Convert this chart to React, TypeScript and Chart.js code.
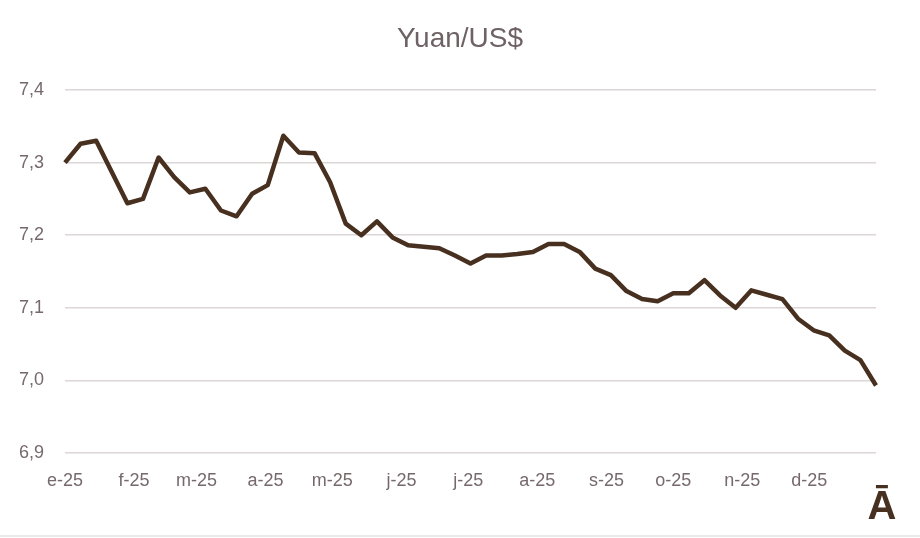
import React, { useEffect, useRef } from "react";
import { Chart, registerables } from "chart.js";

Chart.register(...registerables);

const chartTitle = "Yuan/US$";
const cornerMark = "Ā";

// weekly observations, 2025 (one per week, starting first week of January)
const weeklyValues = [
  7.300, 7.326, 7.330, 7.287, 7.244, 7.250, 7.307, 7.280, 7.259, 7.264,
  7.234, 7.226, 7.257, 7.269, 7.337, 7.314, 7.313, 7.273, 7.216, 7.200,
  7.219, 7.197, 7.186, 7.184, 7.182, 7.172, 7.161, 7.172, 7.172, 7.174,
  7.177, 7.188, 7.188, 7.177, 7.154, 7.145, 7.123, 7.112, 7.109, 7.120,
  7.120, 7.138, 7.117, 7.100, 7.124, 7.118, 7.112, 7.085, 7.069, 7.062,
  7.041, 7.028, 6.993,
];

const daysPerWeek = 7;
const monthStartDays = [0, 31, 59, 90, 120, 151, 181, 212, 243, 273, 304, 334];
const monthLabels = ["e-25", "f-25", "m-25", "a-25", "m-25", "j-25", "j-25", "a-25", "s-25", "o-25", "n-25", "d-25"];

const yMin = 6.9;
const yMax = 7.4;
const yStep = 0.1;

const textColor = "#76696c";
const lineColor = "#47301f";
const gridColor = "#dcd6d7";

export default function App() {
  const canvasRef = useRef<HTMLCanvasElement | null>(null);

  useEffect(() => {
    const canvas = canvasRef.current;
    if (!canvas) return;

    const points = weeklyValues.map((v, i) => ({ x: i * daysPerWeek, y: v }));
    const lastDay = (weeklyValues.length - 1) * daysPerWeek;

    const overlay = {
      id: "overlayText",
      afterDraw(chart: any) {
        const ctx = chart.ctx;
        ctx.save();
        ctx.fillStyle = "#6f6265";
        ctx.font = "28px 'Liberation Sans', Arial, sans-serif";
        ctx.textAlign = "center";
        ctx.textBaseline = "alphabetic";
        ctx.fillText(chartTitle, 460, 47);
        ctx.fillStyle = lineColor;
        ctx.font = "bold 40px 'Liberation Sans', Arial, sans-serif";
        ctx.fillText(cornerMark, 882, 519);
        // faint frame line at the bottom of the picture
        ctx.strokeStyle = "#e4e0e1";
        ctx.lineWidth = 1.5;
        ctx.beginPath();
        ctx.moveTo(0, 536);
        ctx.lineTo(920, 536);
        ctx.stroke();
        ctx.restore();
      },
    };

    const chart = new Chart(canvas, {
      type: "line",
      data: {
        datasets: [
          {
            data: points,
            borderColor: lineColor,
            borderWidth: 4.5,
            pointRadius: 0,
            tension: 0,
            borderJoinStyle: "round",
            borderCapStyle: "butt",
            fill: false,
            clip: false as any,
          },
        ],
      },
      options: {
        responsive: false,
        animation: false,
        events: [],
        layout: { padding: { top: 90, right: 44, left: 0, bottom: 0 } },
        plugins: {
          legend: { display: false },
          title: { display: false },
          tooltip: { enabled: false },
        },
        scales: {
          x: {
            type: "linear",
            min: 0,
            max: lastDay,
            afterFit: (scale: any) => {
              scale.height = 85;
            },
            afterBuildTicks: (scale: any) => {
              scale.ticks = monthStartDays.map((d) => ({ value: d }));
            },
            ticks: {
              autoSkip: false,
              maxRotation: 0,
              color: textColor,
              font: { family: "'Liberation Sans', Arial, sans-serif", size: 18 },
              padding: 17,
              callback: (value: any) => {
                const idx = monthStartDays.indexOf(Number(value));
                return idx >= 0 ? monthLabels[idx] : "";
              },
            },
            grid: { display: false, drawTicks: false },
            border: { display: false },
          },
          y: {
            min: yMin,
            max: yMax,
            afterFit: (scale: any) => {
              scale.width = 65;
            },
            ticks: {
              stepSize: yStep,
              color: textColor,
              font: { family: "'Liberation Sans', Arial, sans-serif", size: 18 },
              padding: 21,
              callback: (value: any) => Number(value).toFixed(1).replace(".", ","),
            },
            grid: { color: gridColor, lineWidth: 1.5, drawTicks: false },
            border: { display: false },
          },
        },
      },
      plugins: [overlay],
    });

    return () => chart.destroy();
  }, []);

  return (
    <div style={{ position: "fixed", left: 0, top: 0, width: 920, height: 538, background: "#ffffff" }}>
      <canvas ref={canvasRef} width={920} height={538} style={{ width: 920, height: 538, display: "block" }} />
    </div>
  );
}
